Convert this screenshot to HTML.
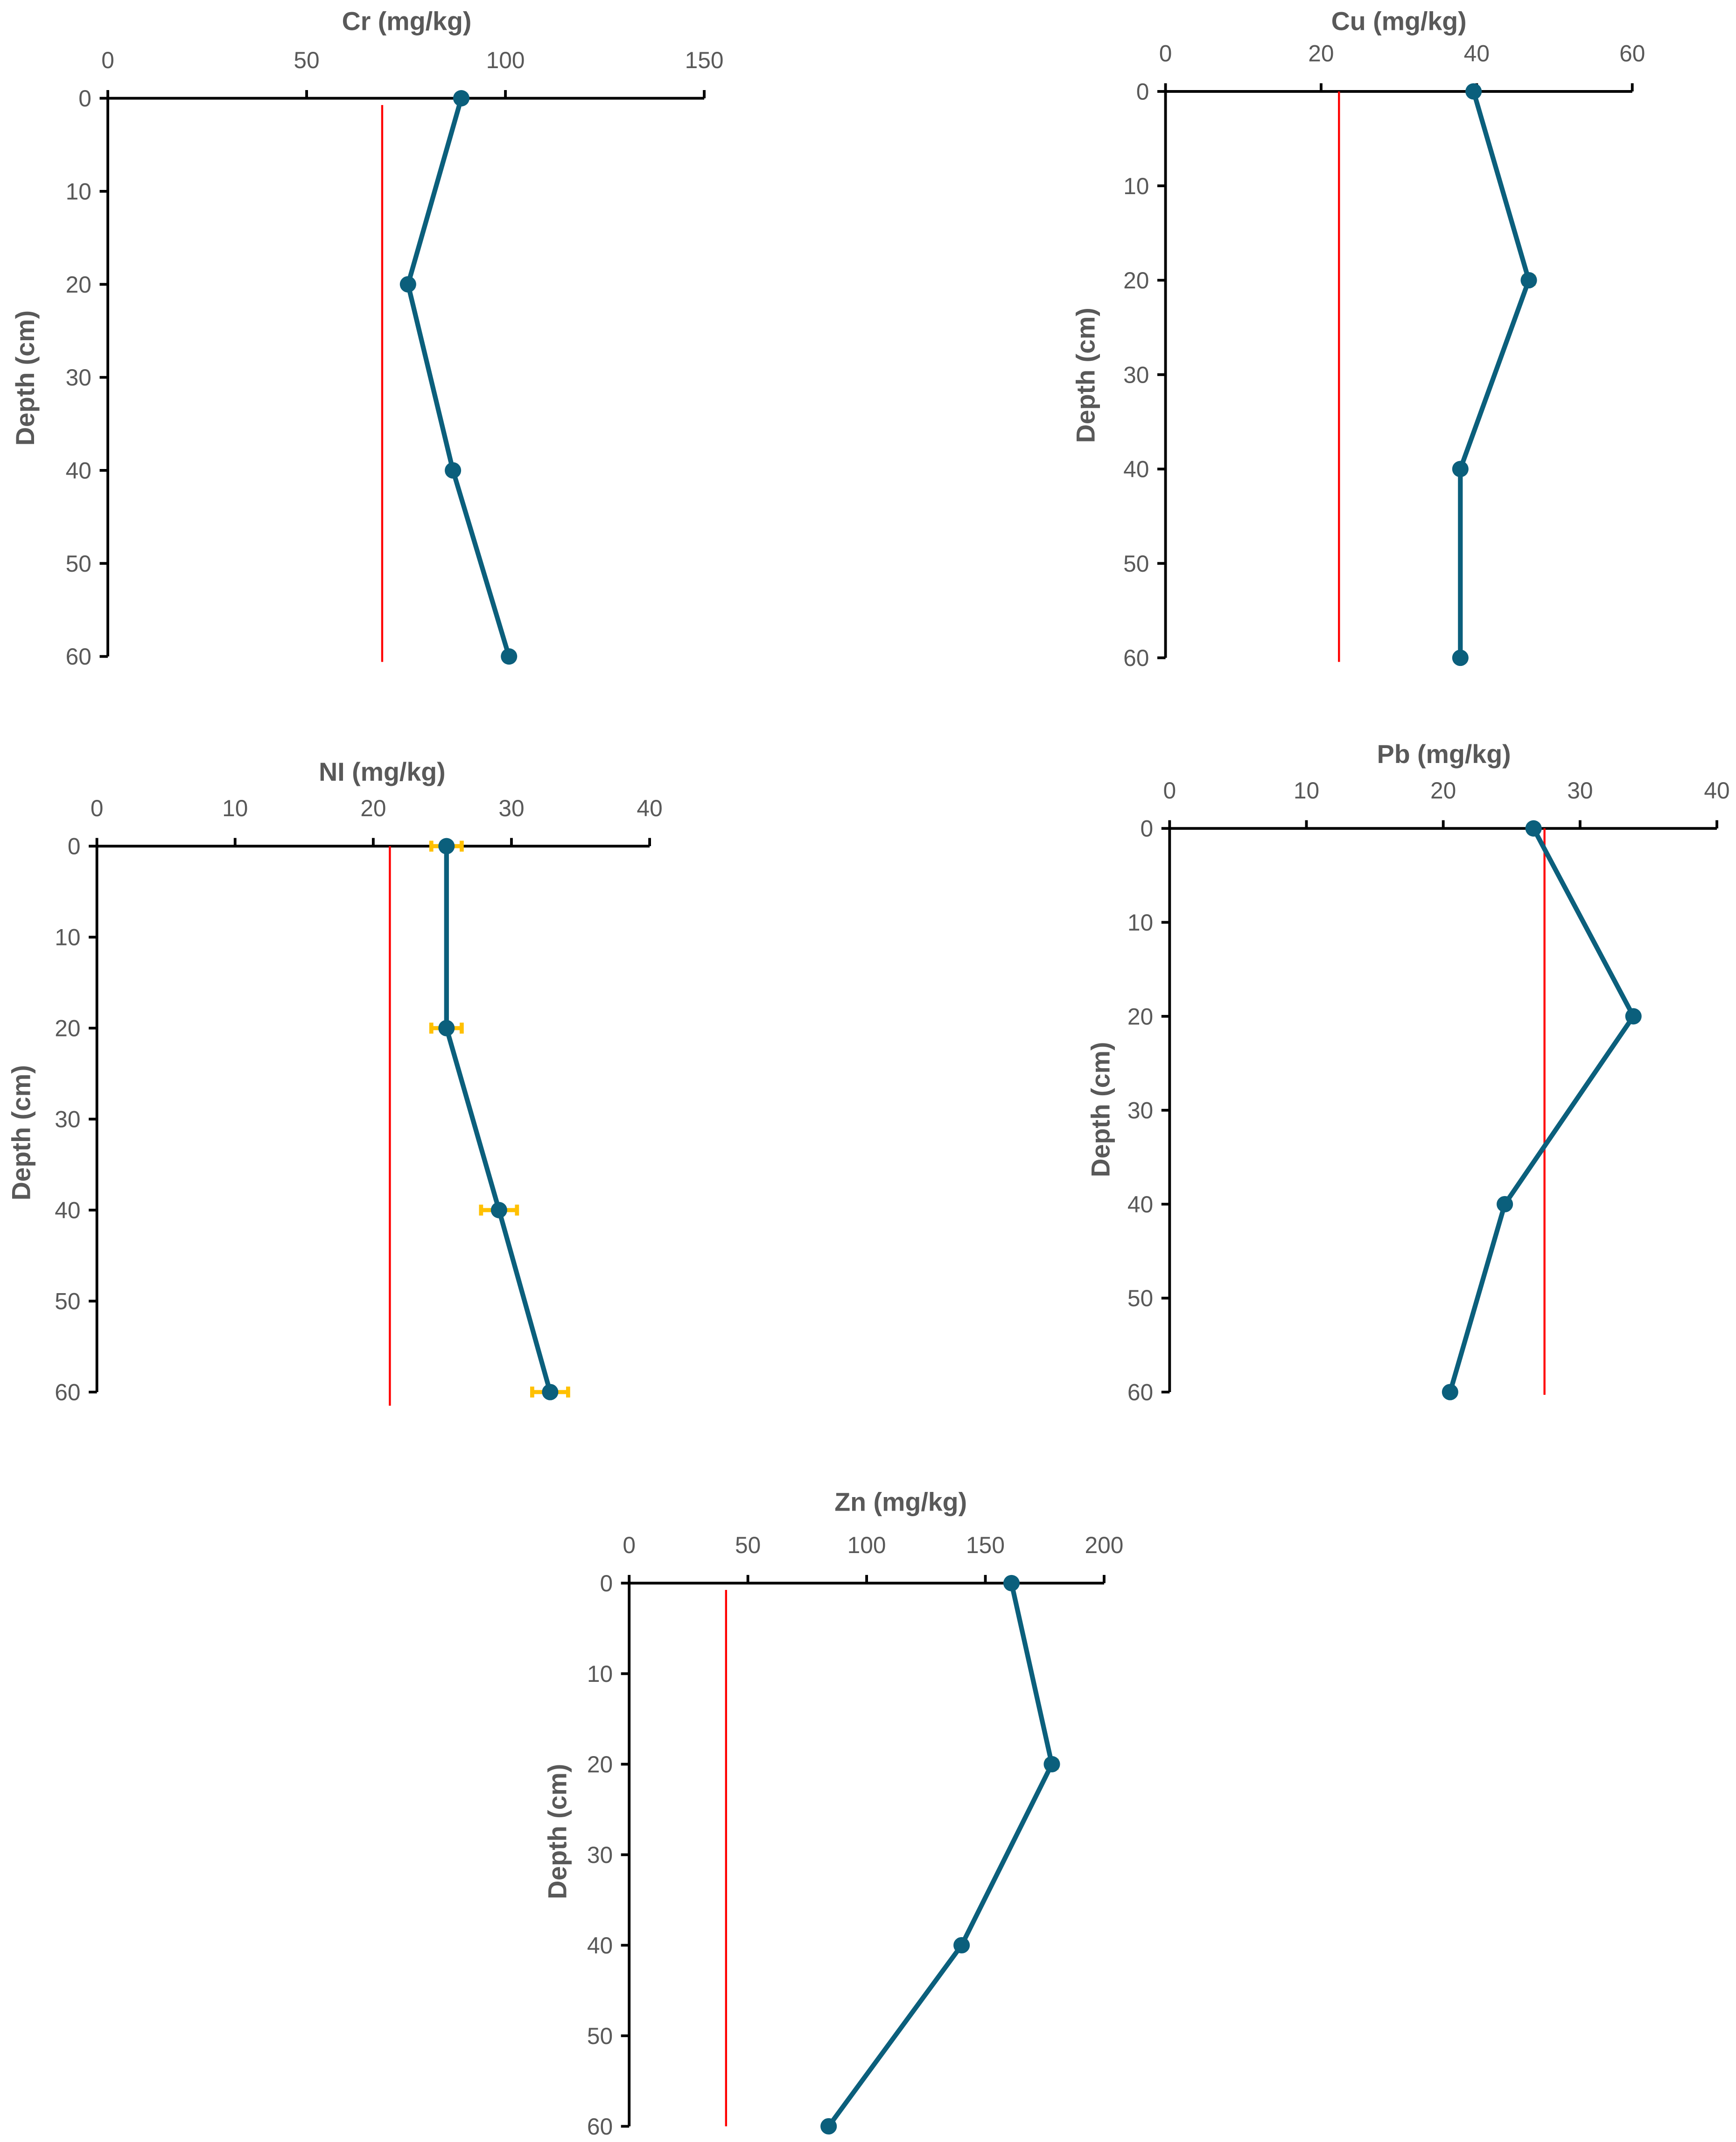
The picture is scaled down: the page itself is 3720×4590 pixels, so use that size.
<!DOCTYPE html>
<html><head><meta charset="utf-8"><style>
html,body{margin:0;padding:0;background:#fff;}
svg{display:block;font-family:"Liberation Sans",sans-serif;}
</style></head><body>
<svg id="fig" xmlns="http://www.w3.org/2000/svg" width="3720" height="4590" viewBox="0 0 1272 1569.5"></svg>
<script>
const depths = [0, 20, 40, 60];
const depthTicks = [0, 10, 20, 30, 40, 50, 60];
const crValues = [88.9, 75.5, 86.8, 100.9];
const cuValues = [39.6, 46.7, 37.9, 37.9];
const niValues = [25.3, 25.3, 29.1, 32.8];
const niErrors = [1.1, 1.1, 1.3, 1.3];
const pbValues = [26.6, 33.9, 24.5, 20.5];
const znValues = [161, 178, 140, 84];
const crTicks = [0, 50, 100, 150];
const cuTicks = [0, 20, 40, 60];
const niTicks = [0, 10, 20, 30, 40];
const pbTicks = [0, 10, 20, 30, 40];
const znTicks = [0, 50, 100, 150, 200];
const crLimit = 69; const cuLimit = 22.3; const niLimit = 21.2; const pbLimit = 27.4; const znLimit = 40.8;

const charts = [
 {id:'cr', title:'Cr (mg/kg)', vals:crValues, ticks:crTicks, limit:crLimit, err:null, x0:79, x1:516, y0:72, y1:481, tx:298, ty:22, yt:18, ytY:277, redTop:77, redBot:485},
 {id:'cu', title:'Cu (mg/kg)', vals:cuValues, ticks:cuTicks, limit:cuLimit, err:[0,0.6,0,0], x0:854, x1:1196, y0:67, y1:482, tx:1025, ty:22, yt:795, ytY:275, redTop:67, redBot:485},
 {id:'ni', title:'NI (mg/kg)', vals:niValues, ticks:niTicks, limit:niLimit, err:niErrors, x0:71, x1:476, y0:620, y1:1020, tx:280, ty:572, yt:15, ytY:830, redTop:620, redBot:1030},
 {id:'pb', title:'Pb (mg/kg)', vals:pbValues, ticks:pbTicks, limit:pbLimit, err:null, x0:857, x1:1258, y0:607, y1:1020, tx:1058, ty:559, yt:806, ytY:813, redTop:607, redBot:1022},
 {id:'zn', title:'Zn (mg/kg)', vals:znValues, ticks:znTicks, limit:znLimit, err:[0,2,0,0], x0:461, x1:809, y0:1160, y1:1558, tx:660, ty:1107, yt:408, ytY:1342, redTop:1165, redBot:1558}
];
const NS='http://www.w3.org/2000/svg';
const svg=document.getElementById('fig');
function mk(tag, attrs, parent){const e=document.createElementNS(NS,tag);for(const k in attrs)e.setAttribute(k,attrs[k]);parent.appendChild(e);return e;}
charts.forEach(c=>{
  const g=mk('g',{},svg);
  
  
  const maxV=c.ticks[c.ticks.length-1];
  const xs=v=>c.x0+(v/maxV)*(c.x1-c.x0);
  const ys=d=>c.y0+(d/60)*(c.y1-c.y0);
  const t=mk('text',{x:c.tx,y:c.ty,'text-anchor':'middle','font-size':19,'font-weight':'bold',fill:'#595959'},g);
  t.textContent=c.title;
  
  
  const yt=mk('text',{x:0,y:0,'text-anchor':'middle','font-size':19,'font-weight':'bold',fill:'#595959',transform:`translate(${c.yt+7},${c.ytY}) rotate(-90)`},g);
  yt.textContent='Depth (cm)';
  
  
  // axes
  const xa=mk('line',{x1:c.x0,y1:c.y0,x2:c.x1,y2:c.y0,stroke:'#000','stroke-width':2},g);
  
  
  const ya=mk('line',{x1:c.x0,y1:c.y0,x2:c.x0,y2:c.y1,stroke:'#000','stroke-width':2},g);
  
  
  c.ticks.forEach(v=>{
    mk('line',{x1:xs(v),y1:c.y0-6,x2:xs(v),y2:c.y0,stroke:'#000','stroke-width':2},g);
    const l=mk('text',{x:xs(v),y:c.y0-22,'text-anchor':'middle','font-size':17,fill:'#595959'},g);
    l.textContent=v;
    
    
  });
  depthTicks.forEach(d=>{
    mk('line',{x1:c.x0-6,y1:ys(d),x2:c.x0,y2:ys(d),stroke:'#000','stroke-width':2},g);
    const l=mk('text',{x:c.x0-12,y:ys(d)+6,'text-anchor':'end','font-size':17,fill:'#595959'},g);
    l.textContent=d;
    
    
  });
  const red=mk('line',{x1:xs(c.limit),y1:c.redTop,x2:xs(c.limit),y2:c.redBot,stroke:'#ff0000','stroke-width':1.5},g);
  
  
  const pts=c.vals.map((v,i)=>xs(v)+','+ys(depths[i])).join(' ');
  const pl=mk('polyline',{points:pts,fill:'none',stroke:'#0b5f7c','stroke-width':3.5},g);
  
  
  c.vals.forEach((v,i)=>{
    if(c.err&&c.err[i]>0){
      const e=c.err[i];
      const eb=mk('path',{d:`M${xs(v-e)},${ys(depths[i])}H${xs(v+e)}M${xs(v-e)},${ys(depths[i])-4}v8M${xs(v+e)},${ys(depths[i])-4}v8`,stroke:'#ffc000','stroke-width':3,fill:'none'},g);
      
      
    }
    const p=mk('circle',{cx:xs(v),cy:ys(depths[i]),r:6,fill:'#0b5f7c'},g);
    
    
  });
});
</script>
</body></html>
